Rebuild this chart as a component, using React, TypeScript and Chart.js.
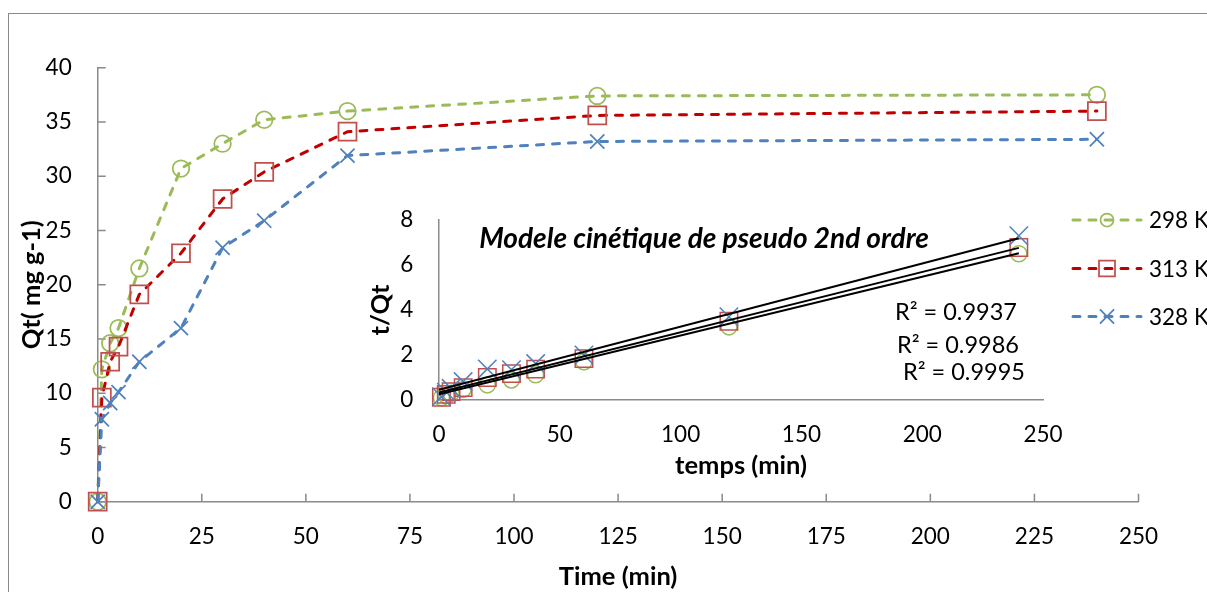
import React, { useEffect, useRef } from "react";
import { Chart, registerables } from "chart.js";

Chart.register(...registerables);

const FONT = "Lato, 'Open Sans', sans-serif";
Chart.defaults.font.family = FONT;
Chart.defaults.color = "#000";

// Contact times (min)
const times = [0, 1, 3, 5, 10, 20, 30, 40, 60, 120, 240];

// Adsorbed quantity Qt (mg/g) at each temperature
const qt298 = [0, 12.2, 14.6, 16.0, 21.5, 30.7, 33.0, 35.2, 36.0, 37.4, 37.5];
const qt313 = [0, 9.6, 12.9, 14.3, 19.1, 22.9, 27.9, 30.4, 34.1, 35.6, 36.0];
const qt328 = [0, 7.6, 9.1, 10.1, 12.9, 16.0, 23.4, 25.9, 31.9, 33.2, 33.4];

// Pseudo-second-order plot: t/Qt vs t
const insetTimes = [1, 3, 5, 10, 20, 30, 40, 60, 120, 240];
const tq298 = [0.1, 0.2, 0.3, 0.47, 0.67, 0.89, 1.12, 1.7, 3.25, 6.5];
const tq313 = [0.12, 0.25, 0.37, 0.55, 1.0, 1.17, 1.37, 1.84, 3.5, 6.78];
const tq328 = [0.15, 0.35, 0.52, 0.82, 1.38, 1.35, 1.62, 2.0, 3.7, 7.3];

// Linear trendlines (endpoints at t = 0 and t = 240)
const fitTimes = [0, 240];
const fit298 = [0.25, 6.52];
const fit313 = [0.33, 6.76];
const fit328 = [0.45, 7.19];

const seriesLabels = ["298 K", "313 K", "328 K"];
const r2Labels = ["R\u00b2 = 0.9937", "R\u00b2 = 0.9986", "R\u00b2 = 0.9995"];
const insetTitle = "Modele cinétique de pseudo 2nd ordre";

const mainXTicks = { min: 0, max: 250, step: 25 };
const mainYTicks = { min: 0, max: 40, step: 5 };
const insetXTicks = { min: 0, max: 250, step: 50 };
const insetYTicks = { min: 0, max: 8, step: 2 };

const AXIS = "#8a8a8a";
const TICK_SIZE = 22.5;
const TICK_FONT = { family: FONT, size: TICK_SIZE };
const TITLE_FONT = { family: FONT, size: 25.5, weight: "bold" as const };

const styles = [
  { line: "#9BBB59", mark: "#9BBB59", shape: "circle", r: 8.3, ri: 8, lr: 6.5 },
  { line: "#C00000", mark: "#C0504D", shape: "rect", r: 12.7, ri: 12.3, lr: 11.3 },
  { line: "#4F81BD", mark: "#4F81BD", shape: "crossRot", r: 10, ri: 13, lr: 10 },
];

const qtSeries = [qt298, qt313, qt328];
const tqSeries = [tq298, tq313, tq328];
const fitSeries = [fit298, fit313, fit328];

function drawMarker(ctx: CanvasRenderingContext2D, shape: string, x: number, y: number, r: number) {
  ctx.beginPath();
  if (shape === "circle") {
    ctx.arc(x, y, r, 0, Math.PI * 2);
  } else if (shape === "rect") {
    const h = r * Math.SQRT1_2;
    ctx.rect(x - h, y - h, 2 * h, 2 * h);
  } else {
    const h = r * Math.SQRT1_2;
    ctx.moveTo(x - h, y - h);
    ctx.lineTo(x + h, y + h);
    ctx.moveTo(x - h, y + h);
    ctx.lineTo(x + h, y - h);
  }
  ctx.stroke();
}

// Tick marks pointing into the plot area
const innerTicks = {
  id: "innerTicks",
  beforeDatasetsDraw(chart: any) {
    const { ctx, chartArea, scales } = chart;
    ctx.save();
    ctx.strokeStyle = AXIS;
    ctx.lineWidth = 1.5;
    ctx.beginPath();
    scales.x.ticks.forEach((t: any) => {
      const p = scales.x.getPixelForValue(t.value);
      ctx.moveTo(p, chartArea.bottom);
      ctx.lineTo(p, chartArea.bottom - 8);
    });
    scales.y.ticks.forEach((t: any) => {
      const p = scales.y.getPixelForValue(t.value);
      ctx.moveTo(chartArea.left, p);
      ctx.lineTo(chartArea.left + 8, p);
    });
    ctx.stroke();
    ctx.restore();
  },
};

// Legend at the right edge: dashed sample, marker, label
const sideLegend = {
  id: "sideLegend",
  afterDraw(chart: any) {
    const { ctx } = chart;
    const rows = [220, 268.5, 316.5];
    ctx.save();
    chart.data.datasets.forEach((ds: any, i: number) => {
      const st = styles[i];
      const y = rows[i];
      ctx.strokeStyle = st.line;
      ctx.lineWidth = 3;
      ctx.lineCap = "round";
      ctx.setLineDash([7, 9]);
      ctx.beginPath();
      ctx.moveTo(1073, y);
      ctx.lineTo(1141, y);
      ctx.stroke();
      ctx.setLineDash([]);
      ctx.lineCap = "butt";
      ctx.strokeStyle = st.mark;
      ctx.lineWidth = 1.75;
      drawMarker(ctx, st.shape, 1107, y, st.lr);
      ctx.fillStyle = "#000";
      ctx.font = `${TICK_SIZE}px ${FONT}`;
      ctx.textAlign = "left";
      ctx.textBaseline = "middle";
      ctx.fillText(ds.label, 1149, y + 1);
    });
    ctx.restore();
  },
};

// Title and R² annotations inside the inset plot
const insetText = {
  id: "insetText",
  afterDraw(chart: any) {
    const { ctx } = chart;
    ctx.save();
    ctx.fillStyle = "#000";
    ctx.textBaseline = "middle";
    ctx.textAlign = "center";
    ctx.font = `italic bold 28px ${FONT}`;
    ctx.fillText(insetTitle, 704, 239);
    ctx.textAlign = "left";
    ctx.font = `23.5px ${FONT}`;
    const pos = [
      [895, 312],
      [897, 345],
      [903, 372],
    ];
    r2Labels.forEach((t, i) => ctx.fillText(t, pos[i][0], pos[i][1]));
    ctx.restore();
  },
};

function axisOptions(range: { min: number; max: number; step: number }, pad: number) {
  return {
    type: "linear" as const,
    min: range.min,
    max: range.max,
    ticks: { stepSize: range.step, font: TICK_FONT, color: "#000", padding: pad },
    grid: { drawOnChartArea: false, drawTicks: false },
    border: { color: AXIS, width: 1.5 },
  };
}

export default function App() {
  const mainRef = useRef<HTMLCanvasElement>(null);
  const insetRef = useRef<HTMLCanvasElement>(null);

  useEffect(() => {
    const main = new Chart(mainRef.current!, {
      type: "line",
      data: {
        datasets: seriesLabels.map((label, i) => ({
          label,
          data: times.map((t, k) => ({ x: t, y: qtSeries[i][k] })),
          borderColor: styles[i].line,
          borderWidth: 3,
          borderDash: [7, 9],
          borderCapStyle: "round" as const,
          pointStyle: styles[i].shape as any,
          pointRadius: styles[i].r,
          pointBorderColor: styles[i].mark,
          pointBackgroundColor: "rgba(0,0,0,0)",
          pointBorderWidth: 1.75,
          tension: 0,
          order: 3 - i,
          clip: false as any,
        })),
      },
      options: {
        animation: false,
        responsive: true,
        maintainAspectRatio: false,
        layout: { padding: { left: 0, top: 67.7, right: 68.5, bottom: 0 } },
        plugins: { legend: { display: false }, tooltip: { enabled: false } },
        scales: {
          x: {
            ...axisOptions(mainXTicks, 21.5),
            title: { display: true, text: "Time (min)", font: TITLE_FONT, color: "#000", padding: { top: 0, bottom: 0 } },
            afterFit: (s: any) => {
              s.height = 90.3;
            },
          },
          y: {
            ...axisOptions(mainYTicks, 26),
            title: { display: true, text: "Qt( mg g-1)", font: TITLE_FONT, color: "#000", padding: { top: 16.5, bottom: 0 } },
            afterFit: (s: any) => {
              s.width = 97.7;
            },
          },
        },
      },
      plugins: [innerTicks, sideLegend],
    });

    const inset = new Chart(insetRef.current!, {
      type: "scatter",
      data: {
        datasets: [
          ...fitSeries.map((f, i) => ({
            type: "line" as const,
            label: "fit " + seriesLabels[i],
            data: fitTimes.map((t, k) => ({ x: t, y: f[k] })),
            borderColor: "#000",
            borderWidth: 2,
            pointRadius: 0,
            showLine: true,
            order: 0,
          })),
          ...tqSeries.map((tq, i) => ({
            label: seriesLabels[i],
            data: insetTimes.map((t, k) => ({ x: t, y: tq[k] })),
            showLine: false,
            pointStyle: styles[i].shape as any,
            pointRadius: styles[i].ri,
            pointBorderColor: styles[i].mark,
            pointBackgroundColor: "rgba(0,0,0,0)",
            pointBorderWidth: 1.5,
            order: 3 - i,
            clip: false as any,
          })),
        ],
      },
      options: {
        animation: false,
        responsive: true,
        maintainAspectRatio: false,
        layout: { padding: { left: 340, top: 220, right: 164, bottom: 111 } },
        plugins: { legend: { display: false }, tooltip: { enabled: false } },
        scales: {
          x: {
            ...axisOptions(insetXTicks, 21.5),
            title: { display: true, text: "temps (min)", font: TITLE_FONT, color: "#000", padding: { top: 0, bottom: 0 } },
            afterFit: (s: any) => {
              s.height = 81;
            },
          },
          y: {
            ...axisOptions(insetYTicks, 25.7),
            title: { display: true, text: "t/Qt", font: TITLE_FONT, color: "#000", padding: { top: 25, bottom: 0 } },
            afterFit: (s: any) => {
              s.width = 99;
            },
          },
        },
      },
      plugins: [insetText],
    });

    return () => {
      main.destroy();
      inset.destroy();
    };
  }, []);

  return (
    <div style={{ position: "fixed", left: 0, top: 0, width: 1207, height: 592, overflow: "hidden", background: "#fff" }}>
      <div
        style={{
          position: "absolute",
          left: 8,
          top: 13,
          width: 1300,
          height: 700,
          borderTop: "1px solid #8a8a8a",
          borderLeft: "1px solid #8a8a8a",
        }}
      />
      <div style={{ position: "absolute", left: 0, top: 0, width: 1207, height: 592 }}>
        <canvas ref={mainRef} />
      </div>
      <div style={{ position: "absolute", left: 0, top: 0, width: 1207, height: 592 }}>
        <canvas ref={insetRef} />
      </div>
    </div>
  );
}
